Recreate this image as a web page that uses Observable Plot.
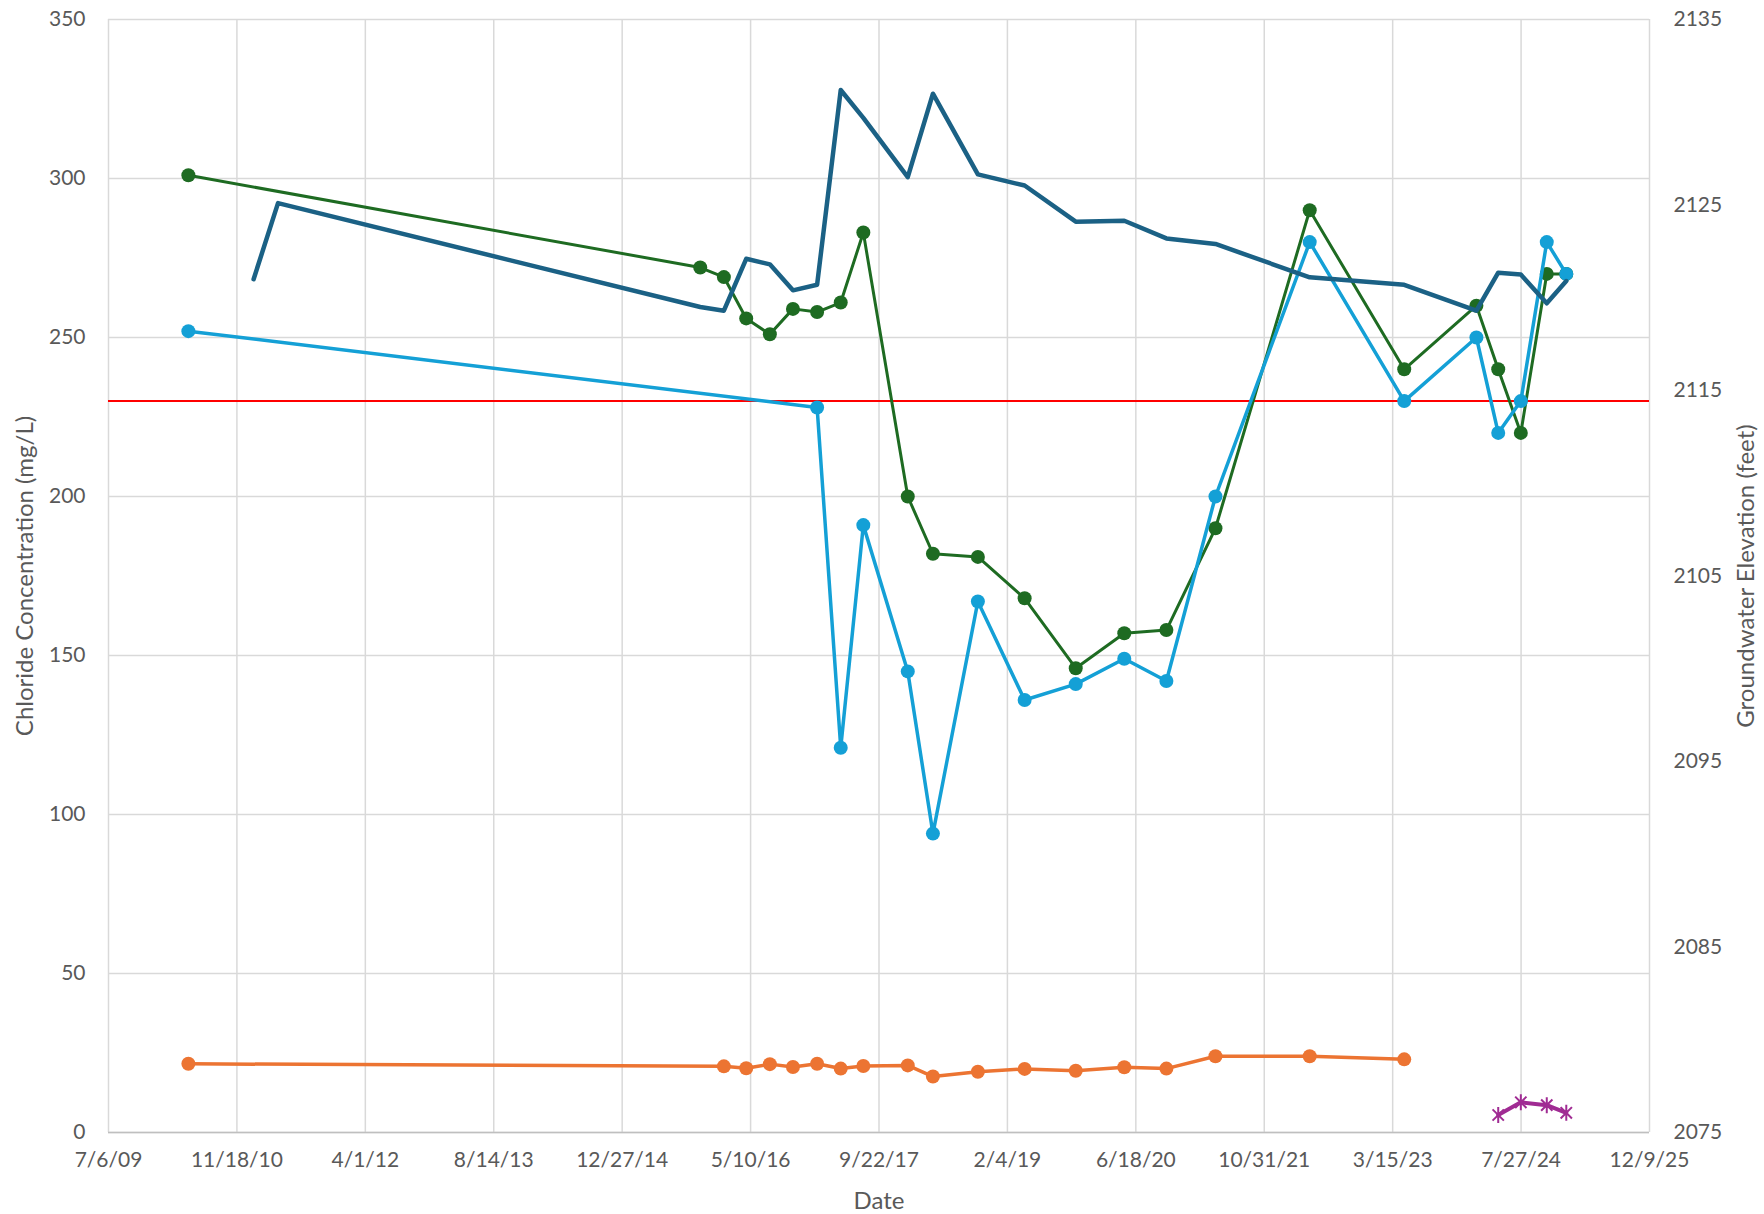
<!DOCTYPE html>
<html>
<head>
<meta charset="utf-8">
<script src="https://cdn.jsdelivr.net/npm/d3@7"></script>
<script src="https://cdn.jsdelivr.net/npm/@observablehq/plot@0.6"></script>
<style>
  html, body { margin: 0; padding: 0; background: #ffffff; }
  #chart { width: 1764px; height: 1214px; }
</style>
</head>
<body>
<div id="chart"></div>
<script>
// ---- Data ----
const xTickLabels = ["7/6/09","11/18/10","4/1/12","8/14/13","12/27/14","5/10/16","9/22/17","2/4/19","6/18/20","10/31/21","3/15/23","7/27/24","12/9/25"];
const leftTicks = [0, 50, 100, 150, 200, 250, 300, 350];
const rightTicks = [2075, 2085, 2095, 2105, 2115, 2125, 2135];

const greenDates = ["2010-05-13","2015-10-27","2016-01-27","2016-04-23","2016-07-24","2016-10-22","2017-01-24","2017-04-26","2017-07-23","2018-01-12","2018-04-20","2018-10-12","2019-04-12","2019-10-28","2020-05-04","2020-10-15","2021-04-24","2022-04-26","2023-04-29","2024-02-04","2024-04-29","2024-07-26","2024-11-04","2025-01-19"];
const greenValues = [301,272,269,256,251,259,258,261,283,200,182,181,168,146,157,158,190,290,240,260,240,220,270,270];

const blueDates = ["2010-05-13","2017-01-24","2017-04-26","2017-07-23","2018-01-12","2018-04-20","2018-10-12","2019-04-12","2019-10-28","2020-05-04","2020-10-15","2021-04-24","2022-04-26","2023-04-29","2024-02-04","2024-04-29","2024-07-26","2024-11-04","2025-01-19"];
const blueValues = [252,228,121,191,145,94,167,136,141,149,142,200,280,230,250,220,230,280,270];

const orangeDates = ["2010-05-13","2016-01-27","2016-04-23","2016-07-24","2016-10-22","2017-01-24","2017-04-26","2017-07-23","2018-01-12","2018-04-20","2018-10-12","2019-04-12","2019-10-28","2020-05-04","2020-10-15","2021-04-24","2022-04-26","2023-04-29"];
const orangeValues = [21.6,20.8,20.2,21.5,20.6,21.6,20.1,20.9,21.1,17.6,19.1,20.0,19.4,20.5,20.1,24.0,24.0,23.0];

const purpleDates = ["2024-04-29","2024-07-26","2024-11-04","2025-01-19"];
const purpleValues = [5.5,9.5,8.6,6.2];

const gwDates = ["2011-01-22","2011-04-27","2015-10-27","2016-01-27","2016-04-23","2016-07-24","2016-10-22","2017-01-24","2017-04-26","2017-07-23","2018-01-12","2018-04-20","2018-10-12","2019-04-12","2019-10-28","2020-05-04","2020-10-15","2021-04-24","2022-04-26","2023-04-29","2024-02-04","2024-04-29","2024-07-26","2024-11-04","2025-01-19"];
const gwValues = [2121.0,2125.1,2119.5,2119.3,2122.1,2121.8,2120.4,2120.7,2131.2,2129.7,2126.5,2131.0,2126.65,2126.05,2124.1,2124.15,2123.2,2122.9,2121.1,2120.7,2119.3,2121.35,2121.25,2119.7,2120.9];

const thresholdValue = [230];

const titleX = "Date";
const titleLeft = "Chloride Concentration (mg/L)";
const titleRight = "Groundwater Elevation (feet)";

// ---- Helpers ----
const parseTick = d3.utcParse("%m/%d/%y");
const xTicks = xTickLabels.map(parseTick);
const leftMin = leftTicks[0], leftMax = leftTicks[leftTicks.length - 1];
const rightMin = rightTicks[0], rightMax = rightTicks[rightTicks.length - 1];
const toLeft = v => leftMin + (v - rightMin) * (leftMax - leftMin) / (rightMax - rightMin);
const fromLeft = v => rightMin + (v - leftMin) * (rightMax - rightMin) / (leftMax - leftMin);

const parseDate = d3.utcParse("%Y-%m-%d");
const toRows = (dates, values) => dates.map((d, i) => ({date: parseDate(d), value: values[i]}));
const green = toRows(greenDates, greenValues);
const blue = toRows(blueDates, blueValues);
const orange = toRows(orangeDates, orangeValues);
const purple = toRows(purpleDates, purpleValues);
const gw = toRows(gwDates, gwValues);

// Excel-like "star" marker: vertical stroke plus an X
const starSymbol = {
  draw(context, size) {
    const r = Math.sqrt(size / Math.PI);
    const k = r * Math.SQRT1_2;
    context.moveTo(0, -r); context.lineTo(0, r);
    context.moveTo(-k, -k); context.lineTo(k, k);
    context.moveTo(-k, k); context.lineTo(k, -k);
  }
};

const C_TEAL = "#1b6185", C_GREEN = "#1e6b22", C_BLUE = "#14a0d6", C_ORANGE = "#ec7432", C_PURPLE = "#a02b93";
const GRID = "#d9d9d9";
const TXT = "#595959";

const chart = Plot.plot({
  width: 1764,
  height: 1214,
  marginLeft: 108,
  marginRight: 115,
  marginTop: 19,
  marginBottom: 82,
  style: {fontFamily: "Lato, 'Open Sans', sans-serif", fontSize: "21px", color: TXT, background: "#ffffff", overflow: "visible"},
  x: {type: "utc", domain: [xTicks[0], xTicks[xTicks.length - 1]]},
  y: {domain: [leftMin, leftMax]},
  marks: [
    Plot.gridX(xTicks, {stroke: GRID, strokeOpacity: 1, strokeWidth: 1.5}),
    Plot.gridY(leftTicks, {stroke: GRID, strokeOpacity: 1, strokeWidth: 1.5}),
    Plot.ruleY([leftMin], {stroke: "#bfbfbf", strokeWidth: 1.5}),
    Plot.ruleY(thresholdValue, {stroke: "#ff0000", strokeWidth: 2}),
    // orange
    Plot.line(orange, {x: "date", y: "value", stroke: C_ORANGE, strokeWidth: 3.5, strokeLinejoin: "round"}),
    Plot.dot(orange, {x: "date", y: "value", r: 7, fill: C_ORANGE, stroke: "none"}),
    // green
    Plot.line(green, {x: "date", y: "value", stroke: C_GREEN, strokeWidth: 3, strokeLinejoin: "round"}),
    Plot.dot(green, {x: "date", y: "value", r: 7, fill: C_GREEN, stroke: "none"}),
    // light blue
    Plot.line(blue, {x: "date", y: "value", stroke: C_BLUE, strokeWidth: 3.5, strokeLinejoin: "round"}),
    Plot.dot(blue, {x: "date", y: "value", r: 7, fill: C_BLUE, stroke: "none"}),
    // purple
    Plot.line(purple, {x: "date", y: "value", stroke: C_PURPLE, strokeWidth: 4, strokeLinejoin: "round"}),
    Plot.dot(purple, {x: "date", y: "value", symbol: starSymbol, r: 8, stroke: C_PURPLE, strokeWidth: 2}),
    // groundwater elevation on the secondary axis
    Plot.line(gw, {x: "date", y: d => toLeft(d.value), stroke: C_TEAL, strokeWidth: 4.5, strokeLinejoin: "round", strokeLinecap: "round"}),
    // axes
    Plot.axisX(xTicks, {
      tickFormat: d => xTickLabels[xTicks.findIndex(t => +t === +d)],
      tickSize: 0, tickPadding: 20, fill: TXT, label: null
    }),
    Plot.axisY(leftTicks, {
      anchor: "left", tickSize: 0, tickPadding: 23, fill: TXT, label: null
    }),
    Plot.axisY(rightTicks.map(toLeft), {
      anchor: "right", tickSize: 0, tickPadding: 24, fill: TXT,
      tickFormat: d => d3.format(".0f")(fromLeft(d)), label: null
    }),
    // axis titles
    Plot.text([titleX], {text: d => d, frameAnchor: "bottom", dy: 69, textAnchor: "middle", lineAnchor: "middle", fontSize: 24, fill: TXT}),
    Plot.text([titleLeft], {text: d => d, frameAnchor: "left", dx: -83, textAnchor: "middle", lineAnchor: "middle", rotate: -90, fontSize: 24, fill: TXT}),
    Plot.text([titleRight], {text: d => d, frameAnchor: "right", dx: 97, textAnchor: "middle", lineAnchor: "middle", rotate: -90, fontSize: 24, fill: TXT})
  ]
});

document.getElementById("chart").appendChild(chart);
</script>
</body>
</html>
